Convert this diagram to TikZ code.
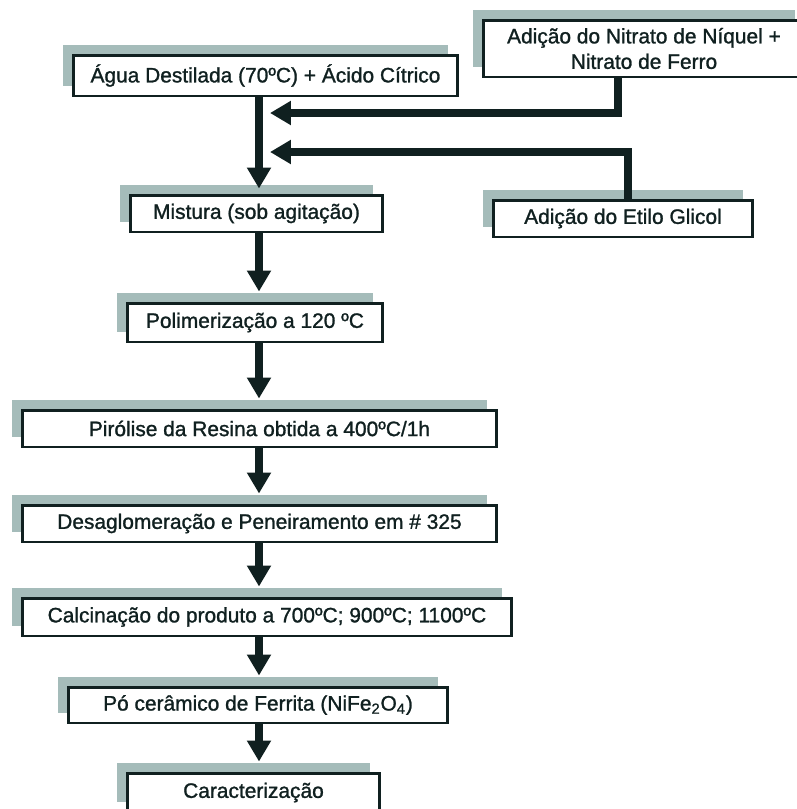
\documentclass[tikz,border=0pt]{standalone}
\usepackage{fontspec}
\setmainfont{Liberation Sans}[FakeBold=1.2]
\usetikzlibrary{arrows.meta,shadows}

\definecolor{sombra}{HTML}{A5BCBA}
\definecolor{traco}{HTML}{102020}

\tikzset{
  caixa/.style={draw=traco, line width=1.7pt, fill=white, text=traco, inner sep=0pt,
    align=center, font=\fontsize{11.9}{14.5}\selectfont,
    general shadow={fill=sombra, shadow xshift=-0.2cm, shadow yshift=0.2cm}},
  seta/.style={draw=traco, line width=0.15cm, -{Triangle[width=0.46cm,length=0.42cm]}}
}

\begin{document}
\begin{tikzpicture}[x=0.02cm, y=-0.02cm]
			\useasboundingbox (0,0) rectangle (796,809);
			
			\node[caixa, minimum width=7.7cm, minimum height=0.82cm] (agua) at (265.5,75.5) {Água Destilada (70ºC) + Ácido Cítrico};
			\node[caixa, minimum width=6.44cm, minimum height=1.14cm] (nitrato) at (644,48.5) {Adição do Nitrato de Níquel +\\Nitrato de Ferro};
			\node[caixa, minimum width=5.06cm, minimum height=0.74cm] (mistura) at (256.5,213.5) {Mistura (sob agitação)};
			\node[caixa, minimum width=5.2cm, minimum height=0.74cm] (etilo) at (623,218.5) {Adição do Etilo Glicol};
			\node[caixa, minimum width=5.12cm, minimum height=0.78cm] (polim) at (255,322.5) {Polimerização a 120 ºC};
			\node[caixa, minimum width=9.5cm, minimum height=0.74cm] (pirolise) at (259.5,428.5) {Pirólise da Resina obtida a 400ºC/1h};
			\node[caixa, minimum width=9.5cm, minimum height=0.74cm] (desag) at (259.5,523.5) {Desaglomeração e Peneiramento em \# 325};
			\node[caixa, minimum width=9.8cm, minimum height=0.76cm] (calc) at (267,617) {Calcinação do produto a 700ºC; 900ºC; 1100ºC};
			\node[caixa, minimum width=7.6cm, minimum height=0.72cm] (po) at (258,705) {Pó cerâmico de Ferrita (NiFe\textsubscript{2}O\textsubscript{4})};
			\node[caixa, minimum width=5.06cm, minimum height=0.78cm] (carac) at (253.5,792.5) {Caracterização};
			
			\coordinate (eixo) at (259,0);
			\coordinate (e1) at (270,113);
			\coordinate (e2) at (270,152);
			
			\draw[seta, shorten >=0.1cm] (agua.south -| eixo) -- (mistura.north -| eixo);
			\draw[seta] ([xshift=-0.52cm]nitrato.south) |- (e1);
			\draw[seta] ([xshift=0.1cm]etilo.north) |- (e2);
			\draw[seta, shorten >=0.2cm] (mistura.south -| eixo) -- (polim.north -| eixo);
			\draw[seta, shorten >=0.2cm] (polim.south -| eixo) -- (pirolise.north -| eixo);
			\draw[seta, shorten >=0.2cm] (pirolise.south -| eixo) -- (desag.north -| eixo);
			\draw[seta, shorten >=0.2cm] (desag.south -| eixo) -- (calc.north -| eixo);
			\draw[seta, shorten >=0.2cm] (calc.south -| eixo) -- (po.north -| eixo);
			\draw[seta, shorten >=0.2cm] (po.south -| eixo) -- (carac.north -| eixo);
\end{tikzpicture}
\end{document}
